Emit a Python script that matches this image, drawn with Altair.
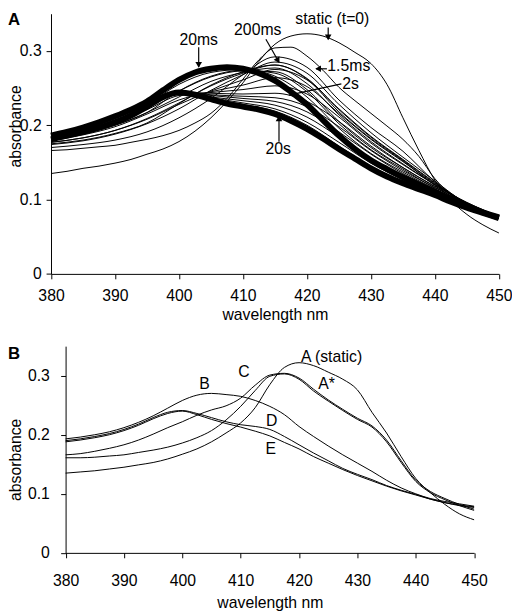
import altair as alt
import pandas as pd

FONT = "Liberation Sans"

# ---------------- wavelength grids ----------------
WL_FINE = [380, 382.5, 385, 387.5, 390, 392.5, 395, 397.5, 400, 402.5, 405, 407.5, 410,
           412.5, 415, 417.5, 420, 422.5, 425, 427.5, 430, 432.5, 435, 437.5, 440,
           442.5, 445, 447.5, 450]
WL_COARSE = [380, 385, 390, 395, 400, 405, 410, 415, 420, 425, 430, 435, 440, 445, 450]

XTICKS = [380, 390, 400, 410, 420, 430, 440, 450]
YTICKS = [0, 0.1, 0.2, 0.3]

# ---------------- panel A: time-resolved spectra ----------------
A_STATIC = [.135, .138, .142, .145, .149, .154, .161, .168, .178, .192, .210, .232, .257,
            .286, .309, .320, .323, .320, .311, .298, .283, .255, .210, .166, .126,
            .099, .080, .066, .055]
A_1_5MS = [.166, .167, .169, .171, .173, .177, .181, .186, .193, .203, .216, .236, .262,
           .288, .304, .305, .293, .274, .251, .233, .216, .199, .181, .158, .128,
           .107, .092, .082, .075]
A_20MS = [.186, .191, .197, .204, .212, .221, .232, .247, .261, .271, .276, .278, .276,
          .270, .260, .245, .228, .207, .186, .168, .153, .141, .130, .120, .110,
          .100, .091, .083, .076]
A_20S = [.181, .186, .191, .197, .204, .213, .225, .238, .244, .241, .235, .229, .225,
         .221, .215, .206, .195, .182, .168, .155, .142, .131, .122, .114, .106,
         .097, .089, .082, .075]

A_F1 = [.170, .174, .180, .191, .210, .236, .268, .292, .278, .234, .197, .165, .124, .092, .076]
A_F2 = [.175, .180, .189, .203, .229, .254, .272, .281, .262, .218, .182, .152, .119, .092, .076]
A_F3 = [.180, .188, .200, .217, .246, .266, .274, .270, .245, .202, .167, .141, .115, .092, .077]
A_G1 = [.185, .195, .209, .228, .255, .271, .275, .266, .238, .196, .162, .137, .114, .093, .076]
A_G2 = [.183, .192, .205, .223, .246, .265, .273, .272, .248, .205, .170, .143, .117, .093, .076]
A_G3 = [.180, .188, .200, .217, .238, .259, .271, .277, .256, .214, .178, .148, .120, .094, .076]
A_G4 = [.177, .183, .193, .209, .230, .253, .270, .281, .263, .221, .184, .153, .122, .094, .075]
A_200MS = [.174, .179, .188, .202, .222, .247, .268, .285, .270, .228, .190, .157, .125, .094, .075]
A_H1 = [.177, .183, .193, .208, .228, .246, .261, .275, .261, .222, .185, .154, .123, .095, .076]
A_H2 = [.179, .187, .198, .215, .234, .245, .254, .264, .252, .216, .181, .151, .121, .095, .076]
A_H3 = [.181, .190, .203, .221, .240, .244, .248, .253, .242, .211, .176, .147, .120, .096, .077]
A_2S = [.183, .193, .207, .226, .244, .243, .242, .243, .232, .205, .172, .143, .118, .096, .077]
A_K1 = [.183, .193, .206, .226, .245, .241, .239, .237, .225, .198, .166, .139, .116, .095, .077]
A_K2 = [.183, .193, .206, .226, .245, .240, .236, .232, .218, .191, .161, .135, .114, .094, .076]
A_K3 = [.182, .192, .206, .226, .245, .238, .233, .227, .211, .184, .155, .131, .111, .092, .076]
A_K4 = [.182, .192, .205, .226, .245, .237, .230, .222, .204, .177, .149, .127, .109, .091, .075]
A_K5 = [.182, .192, .205, .226, .245, .236, .228, .219, .200, .172, .145, .124, .107, .090, .075]

A_SERIES = [
    ("static", "thin", WL_FINE, A_STATIC),
    ("1.5ms", "thin", WL_FINE, A_1_5MS),
    ("f1", "thin", WL_COARSE, A_F1),
    ("f2", "thin", WL_COARSE, A_F2),
    ("f3", "thin", WL_COARSE, A_F3),
    ("g1", "thin", WL_COARSE, A_G1),
    ("g2", "thin", WL_COARSE, A_G2),
    ("g3", "thin", WL_COARSE, A_G3),
    ("g4", "thin", WL_COARSE, A_G4),
    ("200ms", "thin", WL_COARSE, A_200MS),
    ("h1", "thin", WL_COARSE, A_H1),
    ("h2", "thin", WL_COARSE, A_H2),
    ("h3", "thin", WL_COARSE, A_H3),
    ("2s", "thin", WL_COARSE, A_2S),
    ("k1", "thin", WL_COARSE, A_K1),
    ("k2", "thin", WL_COARSE, A_K2),
    ("k3", "thin", WL_COARSE, A_K3),
    ("k4", "thin", WL_COARSE, A_K4),
    ("k5", "thin", WL_COARSE, A_K5),
    ("20ms", "band", WL_FINE, A_20MS),
    ("20s", "band", WL_FINE, A_20S),
]

ANN_A_TEXT = ["20ms", "200ms", "static (t=0)", "1.5ms", "2s", "20s"]
ANN_A_WL = [403.08, 412.31, 423.97, 426.54, 426.8, 415.5]
ANN_A_AB = [0.3143, 0.3275, 0.3434, 0.2800, 0.2560, 0.1673]

ARR_WL1 = [403.08, 413.58, 423.32, 423.12, 425.38, 415.63]
ARR_AB1 = [0.3050, 0.3156, 0.3315, 0.2759, 0.2556, 0.1779]
ARR_WL2 = [403.08, 415.63, 423.32, 421.43, 417.17, 415.63]
ARR_AB2 = [0.2785, 0.2847, 0.3156, 0.2759, 0.2405, 0.2119]

HEAD_WL = [403.08, 415.40, 423.32, 421.89, 415.63]
HEAD_AB = [0.2825, 0.2882, 0.3196, 0.2759, 0.2079]
HEAD_ANG = [180, 150.3, 180, 270, 0]

PANEL_A_LABEL = ["A"]
PANEL_A_WL = [373.28]
PANEL_A_AB = [0.3355]

# ---------------- panel B: selected spectra ----------------
B_STATIC = [.135, .137, .139, .142, .145, .149, .153, .159, .167, .176, .188, .203, .220,
            .246, .285, .314, .322, .317, .306, .294, .276, .238, .203, .163, .126,
            .102, .082, .066, .056]
B_ASTAR = [.161, .161, .162, .164, .166, .170, .174, .179, .186, .195, .207, .225, .248,
           .275, .299, .303, .294, .274, .257, .241, .226, .213, .188, .153, .121,
           .102, .090, .080, .072]
B_C = [.166, .168, .172, .177, .183, .191, .201, .212, .222, .233, .242, .249, .262,
       .284, .301, .304, .296, .277, .259, .243, .228, .215, .191, .156, .123,
       .104, .092, .082, .074]
B_B = [.193, .196, .200, .205, .212, .221, .232, .245, .258, .267, .270, .268, .265,
       .258, .248, .234, .214, .197, .181, .166, .152, .138, .123, .110, .100,
       .092, .087, .083, .079]
B_D = [.190, .193, .197, .202, .209, .218, .229, .238, .241, .236, .229, .222, .217,
       .214, .209, .197, .183, .169, .156, .143, .133, .124, .114, .106, .099,
       .091, .085, .081, .078]
B_E = [.188, .191, .195, .200, .207, .216, .227, .236, .240, .234, .226, .219, .213,
       .206, .198, .187, .176, .163, .152, .141, .131, .122, .113, .105, .098,
       .091, .085, .080, .077]

B_SERIES = [
    ("A (static)", B_STATIC),
    ("A*", B_ASTAR),
    ("C", B_C),
    ("B", B_B),
    ("D", B_D),
    ("E", B_E),
]

ANN_B_TEXT = ["A (static)", "A*", "B", "C", "D", "E"]
ANN_B_WL = [425.57, 424.7, 403.81, 410.56, 415.3, 415.17]
ANN_B_AB = [0.332, 0.285, 0.2853, 0.3057, 0.2223, 0.1753]

PANEL_B_LABEL = ["B"]
PANEL_B_WL = [370.13]
PANEL_B_AB = [0.3278]

# ---------------- tables ----------------
rows = []
for name, kind, wl, vals in A_SERIES:
    for w, v in zip(wl, vals):
        rows.append({"wl": w, "ab": v, "series": name, "kind": kind})
dfA = pd.DataFrame(rows)

rows = []
for name, vals in B_SERIES:
    for w, v in zip(WL_FINE, vals):
        rows.append({"wl": w, "ab": v, "series": name})
dfB = pd.DataFrame(rows)

dfTA = pd.DataFrame({"wl": ANN_A_WL, "ab": ANN_A_AB, "label": ANN_A_TEXT})
dfR = pd.DataFrame({"wl1": ARR_WL1, "ab1": ARR_AB1, "wl2": ARR_WL2, "ab2": ARR_AB2})
dfH = pd.DataFrame({"wl": HEAD_WL, "ab": HEAD_AB, "ang": HEAD_ANG})
dfPA = pd.DataFrame({"wl": PANEL_A_WL, "ab": PANEL_A_AB, "label": PANEL_A_LABEL})
dfTB = pd.DataFrame({"wl": ANN_B_WL, "ab": ANN_B_AB, "label": ANN_B_TEXT})
dfPB = pd.DataFrame({"wl": PANEL_B_WL, "ab": PANEL_B_AB, "label": PANEL_B_LABEL})

# ---------------- geometry ----------------
W, H = 512, 607
xa = alt.Scale(domain=[380, 450], range=[43.7, 498.7], nice=False, zero=False)
ya = alt.Scale(domain=[0, 0.35], range=[265.3, 1.0], nice=False, zero=False)
xb = alt.Scale(domain=[380, 450], range=[58.5, 473.5], nice=False, zero=False)
yb = alt.Scale(domain=[0, 0.35], range=[548.7, 338.7], nice=False, zero=False)

ax_xa = alt.Axis(orient="bottom", values=XTICKS, title="wavelength nm", offset=265.3 - H,
                 tickSize=5, labelPadding=21.7, labelBaseline="alphabetic",
                 titleY=46.0, titleBaseline="alphabetic", labelFlush=False, grid=False)
ax_ya = alt.Axis(orient="left", values=YTICKS, format=".1~f", title="absorbance",
                 offset=-43.7, tickSize=5, labelPadding=5, titleX=12.5 - 43.7,
                 titleY=115.0, titleAngle=270, titleBaseline="alphabetic",
                 titleAlign="center", labelFlush=False, grid=False)
ax_xb = alt.Axis(orient="bottom", values=XTICKS, title="wavelength nm", offset=548.7 - H,
                 tickSize=5, labelPadding=28.3, labelBaseline="alphabetic",
                 titleY=55.0, titleBaseline="alphabetic", labelFlush=False, grid=False)
ax_yb = alt.Axis(orient="left", values=YTICKS, format=".1~f", title="absorbance",
                 offset=-58.5, tickSize=5, labelPadding=11.5, titleX=12.5 - 58.5,
                 titleY=453.7, titleAngle=270, titleBaseline="alphabetic",
                 titleAlign="center", labelFlush=False, grid=False)


def xy(xs, ys, xf="wl:Q", yf="ab:Q"):
    return dict(x=alt.X(xf, scale=xs, axis=None), y=alt.Y(yf, scale=ys, axis=None))


# ---------------- panel A layers ----------------
linesA = alt.Chart(dfA).mark_line(interpolate="monotone", color="black").encode(
    x=alt.X("wl:Q", scale=xa, axis=ax_xa),
    y=alt.Y("ab:Q", scale=ya, axis=ax_ya),
    detail="series:N",
    strokeWidth=alt.StrokeWidth("kind:N", scale=alt.Scale(domain=["thin", "band"], range=[1, 6]),
                                legend=None),
)
textA = alt.Chart(dfTA).mark_text(font=FONT, fontSize=16, color="black").encode(
    text="label:N", **xy(xa, ya))
rulesA = alt.Chart(dfR).mark_rule(color="black", strokeWidth=1.2).encode(
    x2="wl2:Q", y2="ab2:Q", **xy(xa, ya, "wl1:Q", "ab1:Q"))
headsA = alt.Chart(dfH).mark_point(shape="triangle", filled=True, size=45, color="black",
                                   opacity=1).encode(
    angle=alt.Angle("ang:Q", scale=None), **xy(xa, ya))
labelA = alt.Chart(dfPA).mark_text(font=FONT, fontSize=17, fontWeight="bold", align="left",
                                   baseline="alphabetic", color="black").encode(
    text="label:N", **xy(xa, ya))

# ---------------- panel B layers ----------------
linesB = alt.Chart(dfB).mark_line(interpolate="monotone", color="black", strokeWidth=1).encode(
    x=alt.X("wl:Q", scale=xb, axis=ax_xb),
    y=alt.Y("ab:Q", scale=yb, axis=ax_yb),
    detail="series:N",
)
textB = alt.Chart(dfTB).mark_text(font=FONT, fontSize=16, color="black").encode(
    text="label:N", **xy(xb, yb))
labelB = alt.Chart(dfPB).mark_text(font=FONT, fontSize=17, fontWeight="bold", align="left",
                                   baseline="alphabetic", color="black").encode(
    text="label:N", **xy(xb, yb))

chart = (
    alt.layer(linesA, rulesA, headsA, textA, labelA, linesB, textB, labelB)
    .resolve_scale(x="independent", y="independent")
    .properties(width=W, height=H, autosize=alt.AutoSizeParams(type="none"), padding=0)
    .configure_view(stroke=None)
    .configure_axis(labelFont=FONT, titleFont=FONT, labelFontSize=16, titleFontSize=16,
                    titleFontWeight="normal", labelColor="black", titleColor="black",
                    domainColor="black", tickColor="black", grid=False)
)

chart.save("out.html", embed_options={"renderer": "svg", "actions": False})
